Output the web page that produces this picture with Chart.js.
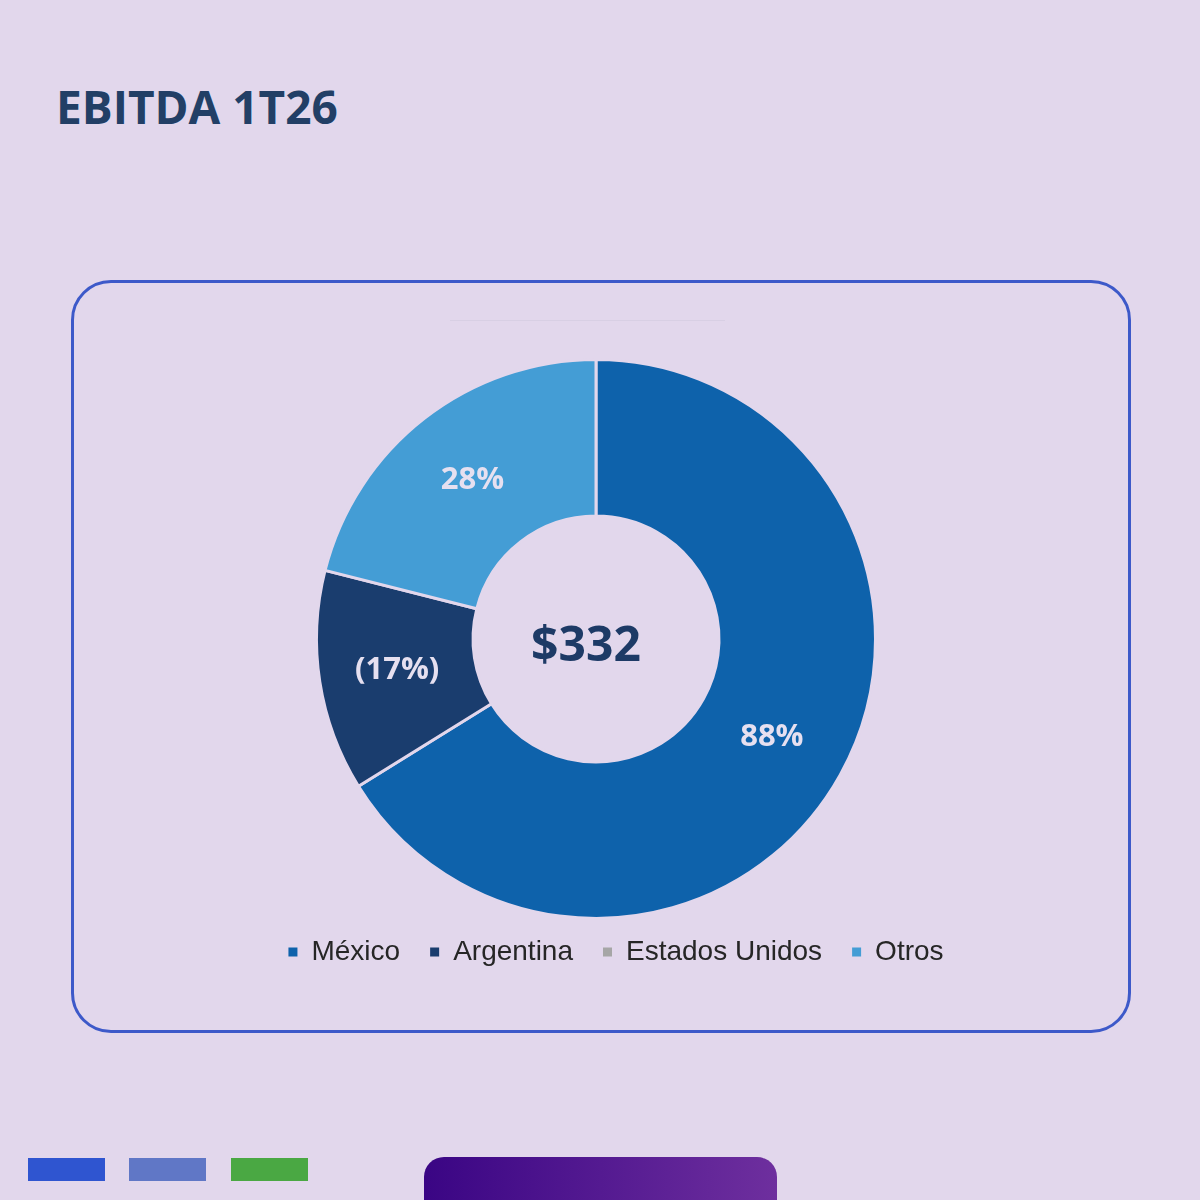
<!DOCTYPE html>
<html>
<head>
<meta charset="utf-8">
<script src="https://cdn.jsdelivr.net/npm/chart.js@4"></script>
<style>
  html, body { margin: 0; padding: 0; }
  body { width: 1200px; height: 1200px; background: #e2d7ec; position: relative; overflow: hidden; font-family: "Open Sans", sans-serif; }
  #title { position: absolute; left: 56px; top: 79px; margin: 0; font-size: 46px; font-weight: 700; color: #223f66; line-height: 1.2; }
  #card { position: absolute; left: 71px; top: 280px; width: 1054px; height: 747px; border: 3px solid #3d59c9; border-radius: 40px; }
  #ghost { position: absolute; left: 450px; top: 320px; width: 275px; height: 1px; background: #d8cfe4; }
  #wrap { position: absolute; left: 96px; top: 340px; width: 1000px; height: 648px; }
  .tab { position: absolute; top: 1158px; width: 77px; height: 23px; }
  #pill { position: absolute; left: 424px; top: 1157px; width: 353px; height: 80px; border-radius: 20px; background: linear-gradient(90deg, #3a0584, #6e2f9e); }
</style>
</head>
<body>
<h1 id="title">EBITDA 1T26</h1>
<div id="card"></div>
<div id="ghost"></div>
<div id="wrap"><canvas id="ebitda"></canvas></div>
<div class="tab" style="left:28px;background:#2f55d0"></div>
<div class="tab" style="left:129px;background:#6077c6"></div>
<div class="tab" style="left:231px;background:#4aa843"></div>
<div id="pill"></div>
<script>
// EBITDA share by region (%), negative shown in parentheses
const regions = ["México", "Argentina", "Estados Unidos", "Otros"];
const shares = [88, -17, 0, 28];
const sliceColors = ["#0e62ab", "#1a3d6e", "#a6a6a6", "#449dd5"];
const centerLabel = "$332";

const bg = "#e2d7ec";

function fmtShare(v) {
    return v < 0 ? "(" + Math.abs(v) + "%)" : v + "%";
}

// Draw the percentage inside each slice and the total in the hole
const sliceLabels = {
    id: "sliceLabels",
    afterDatasetsDraw(chart) {
        const ctx = chart.ctx;
        const meta = chart.getDatasetMeta(0);
        ctx.save();
        ctx.textAlign = "center";
        ctx.textBaseline = "middle";
        ctx.font = "700 31px 'Open Sans'";
        ctx.fillStyle = "#e6e0f0";
        meta.data.forEach((arc, i) => {
            if (!shares[i]) return;
            const p = arc.tooltipPosition();
            ctx.fillText(fmtShare(shares[i]), p.x, p.y);
        });
        const c = meta.data[0];
        ctx.font = "700 48px 'Open Sans'";
        ctx.fillStyle = "#1d3a66";
        ctx.fillText(centerLabel, c.x - 10, c.y + 8);
        ctx.restore();
    }
};

// legend sits a little right of and above where chart.js puts it
const legendNudge = {
    id: "legendNudge",
    afterLayout(chart) {
        const lg = chart.legend;
        lg.left += 20; lg.right += 20;
        lg.top -= 12; lg.bottom -= 12;
    }
};

const defaultLabels = Chart.overrides.doughnut.plugins.legend.labels.generateLabels;

new Chart(document.getElementById("ebitda"), {
    type: "doughnut",
    data: {
        labels: regions,
        datasets: [{
            data: shares.map(v => Math.abs(v)),
            backgroundColor: sliceColors,
            borderColor: bg,
            borderWidth: 3
        }]
    },
    options: {
        responsive: true,
        maintainAspectRatio: false,
        animation: false,
        cutout: "44%",
        layout: { padding: { top: 18 } },
        plugins: {
            tooltip: { enabled: false },
            legend: {
                position: "bottom",
                labels: {
                    boxWidth: 9,
                    boxHeight: 9,
                    padding: 30,
                    color: "#262626",
                    font: { family: "'Liberation Sans', Arial, sans-serif", size: 28 },
                    generateLabels(chart) {
                        return defaultLabels(chart).map(item => Object.assign(item, { lineWidth: 0 }));
                    }
                }
            }
        }
    },
    plugins: [sliceLabels, legendNudge]
});
</script>
</body>
</html>
